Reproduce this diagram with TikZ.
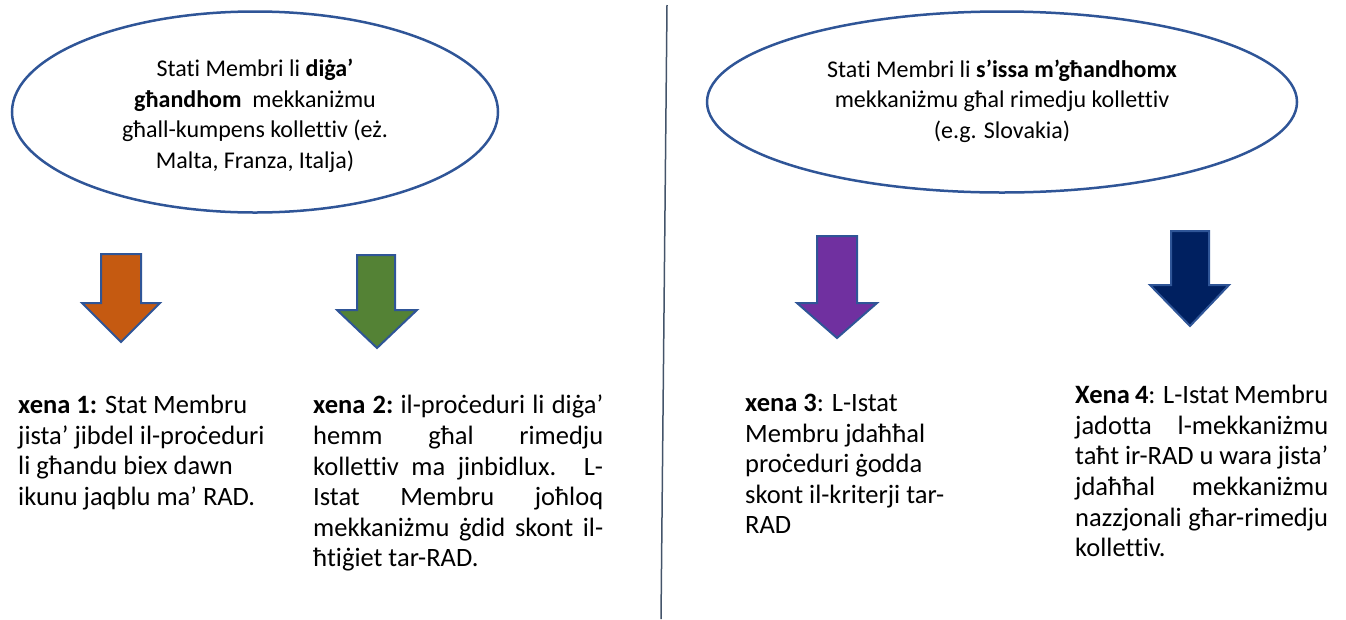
\documentclass[tikz,border=0pt]{standalone}
\usepackage{fontspec}
\setmainfont{Carlito}[Ligatures=NoCommon]
\usetikzlibrary{shapes.geometric}

\definecolor{outlineblue}{HTML}{2F5597}
\definecolor{xenaorange}{HTML}{C55A11}
\definecolor{xenagreen}{HTML}{548235}
\definecolor{xenapurple}{HTML}{7030A0}
\definecolor{xenanavy}{HTML}{002060}
\definecolor{dividergray}{HTML}{44546A}

% one justified line of a scenario text
\newcommand{\jline}[1]{\makebox[\hsize][s]{\spaceskip=0pt\xspaceskip=0pt #1}}
\newcommand{\jtight}[1]{\makebox[\hsize][s]{\spaceskip=0.15em plus 1fil\relax\xspaceskip=\spaceskip #1}}
\newcommand{\jlast}[1]{{\spaceskip=0pt\xspaceskip=0pt #1}}

\tikzset{
  oval/.style={ellipse, draw=outlineblue, line width=2.5pt, inner sep=0pt},
  ovaltext/.style={align=center, inner sep=0pt, font=\fontsize{24}{30.5}\selectfont},
  xenatext/.style={anchor=north west, inner sep=0pt, align=left, font=\fontsize{26.5}{30.6}\selectfont},
  blockarrow/.style={draw=outlineblue, line width=2pt, line join=miter}
}

\begin{document}
\begin{tikzpicture}[x=1pt,y=-1pt]
\useasboundingbox (0,0) rectangle (1346,619);
% divider
\draw[dividergray, line width=1.5pt] (667,5) -- (661,619);
% member states, two groups
\node[oval, minimum width=486pt, minimum height=201pt] (diga) at (255,112) {};
\node[ovaltext] (digatxt) at (255,116) {Stati Membri li \textbf{diġa’}\\ \textbf{għandhom}~ mekkaniżmu\\ għall-kumpens kollettiv (eż.\\ Malta, Franza, Italja)};
\node[oval, minimum width=590pt, minimum height=181pt] (issa) at (1002,102) {};
\node[ovaltext] (issatxt) at (1002,101) {Stati Membri li \textbf{s’issa m’għandhomx}\\ mekkaniżmu għal rimedju kollettiv\\ (e.g. Slovakia)};
% block arrows
\draw[blockarrow, fill=xenaorange] (101,254) -- (141,254) -- (141,303) -- (160,303) -- (121,342) -- (82,303) -- (101,303) -- cycle;
\draw[blockarrow, fill=xenagreen] (357,255) -- (395,255) -- (395,310) -- (417,310) -- (377,348) -- (337,310) -- (357,310) -- cycle;
\draw[blockarrow, fill=xenapurple] (817,236) -- (857,236) -- (857,303) -- (877,303) -- (837,338) -- (797,303) -- (817,303) -- cycle;
\draw[blockarrow, fill=xenanavy] (1171,231) -- (1209,231) -- (1209,285) -- (1229,285) -- (1190,326) -- (1150,285) -- (1171,285) -- cycle;
% scenarios
\node[xenatext] (xena1) at (18,395) {\textbf{xena 1:} Stat Membru\\ jista’ jibdel il-proċeduri\\ li għandu biex dawn\\ ikunu jaqblu ma’ RAD.};
\node[xenatext, text width=290pt] (xena2) at (313,395) {\jtight{\textbf{xena 2:} il-proċeduri li diġa’}\\ \jline{hemm għal rimedju}\\ \jline{kollettiv ma jinbidlux. L-}\\ \jline{Istat Membru joħloq}\\ \jline{mekkaniżmu ġdid skont il-}\\ \jlast{ħtiġiet tar-RAD.}};
\node[xenatext] (xena3) at (745,394) {\textbf{xena 3}: L-Istat\\ Membru jdaħħal\\ proċeduri ġodda\\ skont il-kriterji tar-\\ RAD};
\node[xenatext, text width=253pt] (xena4) at (1075,385) {\jline{\textbf{Xena 4}: L-Istat Membru}\\ \jline{jadotta l-mekkaniżmu}\\ \jline{taħt ir-RAD u wara jista’}\\ \jline{jdaħħal mekkaniżmu}\\ \jline{nazzjonali għar-rimedju}\\ \jlast{kollettiv.}};
\end{tikzpicture}
\end{document}
